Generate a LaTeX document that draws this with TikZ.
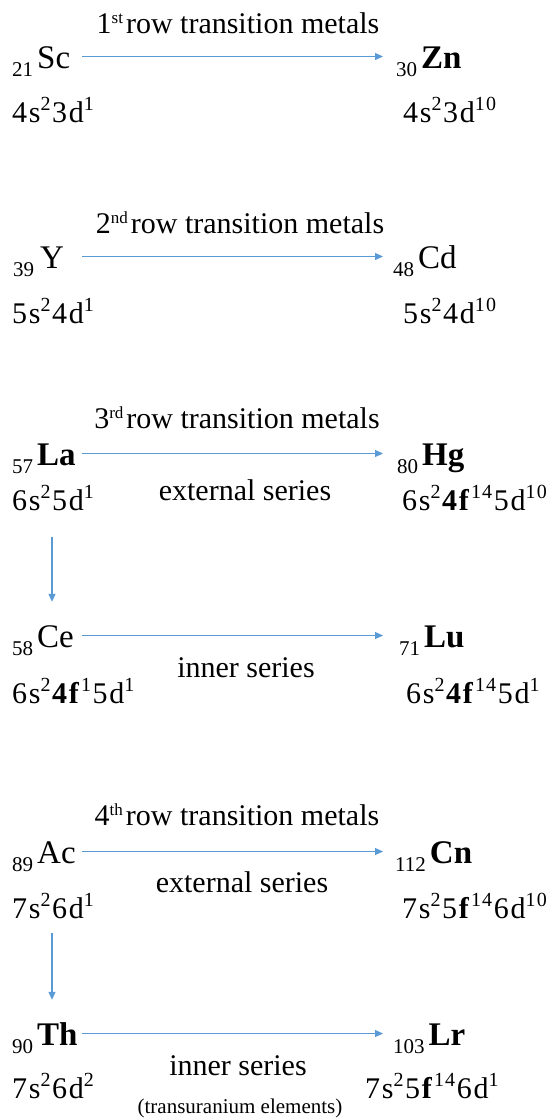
\documentclass[tikz,border=0pt]{standalone}
\usepackage{fontspec}
\setmainfont{LiberationSerif}[Extension=.ttf,UprightFont=*-Regular,BoldFont=*-Bold,ItalicFont=*-Italic,BoldItalicFont=*-BoldItalic]
\newfontfamily\cfgf{LiberationSerif}[Extension=.ttf,UprightFont=*-Regular,BoldFont=*-Bold,LetterSpace=6]
\usetikzlibrary{arrows.meta}
\definecolor{arrowblue}{RGB}{91,155,213}
\newcommand\sbs[1]{\raisebox{-8pt}[0pt][0pt]{\fontsize{21}{21}\selectfont #1}\kern4pt}
\newcommand\sps[1]{\raisebox{12pt}[0pt][0pt]{\fontsize{20}{20}\selectfont #1}\kern1.5pt}
\newcommand\tsup[1]{\raisebox{10pt}[0pt][0pt]{\fontsize{17}{17}\selectfont #1}\kern3pt}
\begin{document}
\begin{tikzpicture}[x=1pt,y=-1pt,
  elem/.style={anchor=base west,inner sep=0pt,text height=23pt,text depth=0pt,font=\fontsize{33}{33}\selectfont},
  cfg/.style={anchor=base west,inner sep=0pt,text height=20pt,text depth=0pt,font=\cfgf\fontsize{30}{30}\selectfont},
  ttl/.style={anchor=base,inner sep=0pt,font=\fontsize{30}{30}\selectfont},
  lbl/.style={anchor=base,inner sep=0pt,font=\fontsize{30}{30}\selectfont},
  note/.style={anchor=base,inner sep=0pt,font=\fontsize{21}{21}\selectfont},
  arr/.style={draw=arrowblue,line width=1.2pt,-{Triangle[length=8pt,width=7pt]}}]
\useasboundingbox (0,0) rectangle (558,1120);
\coordinate (L) at (82,0);
\coordinate (R) at (383,0);
\coordinate (V) at (52,0);
% row 1
\node[ttl] (t1) at (238,33) {1\tsup{st}row transition metals};
\node[elem] (Sc) at (12,68) {\sbs{21}Sc};
\node[elem] (Zn) at (396,68) {\sbs{30}\textbf{Zn}};
\node[cfg] (cSc) at (12,122) {4s\sps{2}3d\sps{1}};
\node[cfg] (cZn) at (403,122) {4s\sps{2}3d\sps{10}};
% row 2
\node[ttl] (t2) at (240,233) {2\tsup{nd}row transition metals};
\node[elem] (Y) at (13,268) {\sbs{39}\kern2pt Y};
\node[elem] (Cd) at (393,268) {\sbs{48}Cd};
\node[cfg] (cY) at (12,323) {5s\sps{2}4d\sps{1}};
\node[cfg] (cCd) at (403,323) {5s\sps{2}4d\sps{10}};
% row 3
\node[ttl] (t3) at (237,428) {3\tsup{rd}row transition metals};
\node[elem] (La) at (12,465) {\sbs{57}\textbf{La}};
\node[elem] (Hg) at (397,465) {\sbs{80}\textbf{Hg}};
\node[lbl] (ext1) at (245,500) {external series};
\node[cfg] (cLa) at (12,510) {6s\sps{2}5d\sps{1}};
\node[cfg] (cHg) at (402,510) {6s\sps{2}\textbf{4f}\sps{14}5d\sps{10}};
\node[elem] (Ce) at (12,647) {\sbs{58}Ce};
\node[elem] (Lu) at (399,647) {\sbs{71}\textbf{Lu}};
\node[lbl] (inn1) at (246,677) {inner series};
\node[cfg] (cCe) at (12,703) {6s\sps{2}\textbf{4f}\sps{1}5d\sps{1}};
\node[cfg] (cLu) at (406,703) {6s\sps{2}\textbf{4f}\sps{14}5d\sps{1}};
% row 4
\node[ttl] (t4) at (237,825) {4\tsup{th}row transition metals};
\node[elem] (Ac) at (12,863) {\sbs{89}Ac};
\node[elem] (Cn) at (395,863) {\sbs{112}\textbf{Cn}};
\node[lbl] (ext2) at (242,892) {external series};
\node[cfg] (cAc) at (12,918) {7s\sps{2}6d\sps{1}};
\node[cfg] (cCn) at (402,918) {7s\sps{2}5\textbf{f}\sps{14}6d\sps{10}};
\node[elem] (Th) at (12,1045) {\sbs{90}\textbf{Th}};
\node[elem] (Lr) at (393,1045) {\sbs{103}\textbf{Lr}};
\node[lbl] (inn2) at (238,1075) {inner series};
\node[cfg] (cTh) at (12,1098) {7s\sps{2}6d\sps{2}};
\node[cfg] (cLr) at (365,1098) {7s\sps{2}5\textbf{f}\sps{14}6d\sps{1}};
\node[note] (tr) at (240,1113) {(transuranium elements)};
% arrows
\draw[arr] (Sc.east -| L) -- (Zn.west -| R);
\draw[arr] (Y.east -| L) -- (Cd.west -| R);
\draw[arr] (La.east -| L) -- (Hg.west -| R);
\draw[arr] (Ce.east -| L) -- (Lu.west -| R);
\draw[arr] (Ac.east -| L) -- (Cn.west -| R);
\draw[arr] (Th.east -| L) -- (Lr.west -| R);
\draw[arr,shorten <=27pt,shorten >=22pt] (cLa.south -| V) -- (Ce.north -| V);
\draw[arr,shorten <=15pt,shorten >=22pt] (cAc.south -| V) -- (Th.north -| V);
\end{tikzpicture}
\end{document}
